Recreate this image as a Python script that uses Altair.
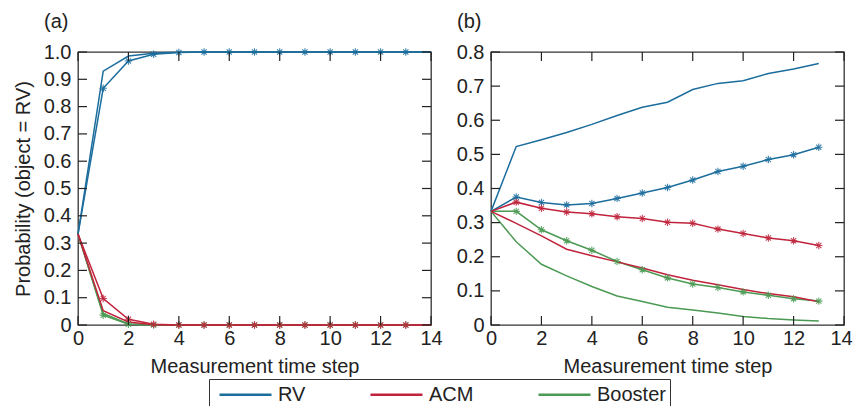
import altair as alt
import pandas as pd

# ---------------- data ----------------
series_names = ["RV", "ACM", "Booster"]
series_colors = ["#1b6d9d", "#c0233b", "#4b9a53"]

t_a = list(range(0, 15))
a_rv_solid = [0.333, 0.930, 0.985, 0.995, 0.999, 1.0, 1.0, 1.0, 1.0, 1.0, 1.0, 1.0, 1.0, 1.0, 1.0]
a_rv_star = [0.333, 0.867, 0.967, 0.992, 0.998, 1.0, 1.0, 1.0, 1.0, 1.0, 1.0, 1.0, 1.0, 1.0, 1.0]
a_acm_solid = [0.333, 0.052, 0.011, 0.001, 0.0, 0.0, 0.0, 0.0, 0.0, 0.0, 0.0, 0.0, 0.0, 0.0, 0.0]
a_acm_star = [0.333, 0.097, 0.021, 0.003, 0.0, 0.0, 0.0, 0.0, 0.0, 0.0, 0.0, 0.0, 0.0, 0.0, 0.0]
a_bst_solid = [0.333, 0.042, 0.004, 0.0, 0.0, 0.0, 0.0, 0.0, 0.0, 0.0, 0.0, 0.0, 0.0, 0.0, 0.0]
a_bst_star = [0.333, 0.036, 0.003, 0.0, 0.0, 0.0, 0.0, 0.0, 0.0, 0.0, 0.0, 0.0, 0.0, 0.0, 0.0]

t_b = list(range(0, 14))
b_rv_solid = [0.333, 0.523, 0.543, 0.564, 0.588, 0.614, 0.638, 0.653, 0.690, 0.708, 0.716, 0.737, 0.750, 0.766]
b_rv_star = [0.333, 0.375, 0.359, 0.352, 0.356, 0.371, 0.387, 0.403, 0.425, 0.450, 0.465, 0.485, 0.499, 0.521]
b_acm_solid = [0.333, 0.298, 0.261, 0.222, 0.203, 0.185, 0.167, 0.147, 0.131, 0.118, 0.104, 0.092, 0.083, 0.068]
b_acm_star = [0.333, 0.360, 0.342, 0.331, 0.326, 0.317, 0.312, 0.301, 0.298, 0.281, 0.268, 0.255, 0.247, 0.233]
b_bst_solid = [0.333, 0.244, 0.178, 0.144, 0.113, 0.085, 0.069, 0.052, 0.044, 0.035, 0.025, 0.019, 0.015, 0.012]
b_bst_star = [0.333, 0.333, 0.279, 0.247, 0.219, 0.186, 0.162, 0.138, 0.120, 0.110, 0.097, 0.087, 0.077, 0.070]

x_ticks = [0, 2, 4, 6, 8, 10, 12, 14]
y_ticks_a = [round(i * 0.1, 1) for i in range(0, 11)]
y_ticks_b = [round(i * 0.1, 1) for i in range(0, 9)]

x_title = "Measurement time step"
y_title = "Probability (object = RV)"

# ---------------- build tables ----------------
def build(t, groups):
    rows = []
    for name, variant, vals in groups:
        for ti, v in zip(t, vals):
            rows.append({"t": ti, "p": v, "series": name, "variant": variant,
                         "key": name + "_" + variant})
    return pd.DataFrame(rows)

df_a = build(t_a, [
    ("Booster", "solid", a_bst_solid), ("Booster", "star", a_bst_star),
    ("RV", "solid", a_rv_solid), ("RV", "star", a_rv_star),
    ("ACM", "solid", a_acm_solid), ("ACM", "star", a_acm_star),
])
df_b = build(t_b, [
    ("Booster", "solid", b_bst_solid), ("Booster", "star", b_bst_star),
    ("RV", "solid", b_rv_solid), ("RV", "star", b_rv_star),
    ("ACM", "solid", b_acm_solid), ("ACM", "star", b_acm_star),
])

W, H = 353, 273
TL = 9  # inward tick length
FONT = "Liberation Sans"
ASTERISK = "M-1,0L1,0M0,-1L0,1M-0.7,-0.7L0.7,0.7M-0.7,0.7L0.7,-0.7"
LEGEND_LINE = "M-0.5,0L4.7,0"
FRAME = "#333"

color_scale = alt.Scale(domain=series_names, range=series_colors)
x_scale = alt.Scale(domain=[0, 14], nice=False, zero=False)


def panel(df, ymax, yticks, label, show_ytitle, last_shift):
    y_scale = alt.Scale(domain=[0, ymax], nice=False)
    x_axis = alt.Axis(values=x_ticks, ticks=False, tickSize=0, domain=False, grid=False,
                      labelPadding=3, titlePadding=8, title=x_title, labelFlush=False,
                      labelOffset={"condition": {"test": "datum.value == 14",
                                                 "value": last_shift},
                                   "value": 0})
    y_axis = alt.Axis(values=yticks, ticks=False, tickSize=0, domain=False, grid=False,
                      labelPadding=7, titlePadding=10, labelFlush=False,
                      labelExpr="datum.value == 0 ? '0' : format(datum.value, '.1f')",
                      title=y_title if show_ytitle else None)

    def X(field):
        return alt.X(field, scale=x_scale, axis=x_axis, title=x_title)

    def Y(field):
        return alt.Y(field, scale=y_scale, axis=y_axis,
                     title=y_title if show_ytitle else None)

    base = alt.Chart(df)
    lines = base.mark_line(strokeWidth=1.5).encode(
        x=X("t:Q"),
        y=Y("p:Q"),
        color=alt.Color("series:N", scale=color_scale, sort=series_names,
                        legend=alt.Legend(title=None, orient="none", direction="horizontal",
                                          legendX=131, legendY=327,
                                          symbolType=LEGEND_LINE, symbolSize=400,
                                          symbolStrokeWidth=2.5, labelFontSize=20,
                                          labelFont=FONT, labelColor="#222",
                                          labelOffset=42, columnPadding=58, padding=4,
                                          strokeColor="#333")),
        detail="key:N",
    )
    points = base.transform_filter(
        "datum.variant == 'star' && datum.t >= 1 && datum.t <= 13"
    ).mark_point(shape=ASTERISK, filled=False, size=55, strokeWidth=1.1, opacity=0.85).encode(
        x=X("t:Q"),
        y=Y("p:Q"),
        color=alt.Color("series:N", scale=color_scale, sort=series_names, legend=None),
    )

    xt = pd.DataFrame({"t": x_ticks})
    yt = pd.DataFrame({"p": yticks})
    tick_color = "#222"
    bottom = alt.Chart(xt).mark_rule(color=tick_color, strokeWidth=1.2).encode(
        x=X("t:Q"), y=alt.value(H), y2=alt.value(H - TL))
    top = alt.Chart(xt).mark_rule(color=tick_color, strokeWidth=1.2).encode(
        x=X("t:Q"), y=alt.value(0), y2=alt.value(TL))
    left = alt.Chart(yt).mark_rule(color=tick_color, strokeWidth=1.2).encode(
        y=Y("p:Q"), x=alt.value(0), x2=alt.value(TL))
    right = alt.Chart(yt).mark_rule(color=tick_color, strokeWidth=1.2).encode(
        y=Y("p:Q"), x=alt.value(W), x2=alt.value(W - TL))

    return alt.layer(lines, points, bottom, top, left, right).properties(
        width=W, height=H,
        title=alt.TitleParams(label, anchor="start", frame="group", dx=-34, offset=10,
                              fontSize=20, fontWeight="normal", font=FONT, color="#222"),
    )


pa = panel(df_a, 1.0, y_ticks_a, "(a)", True, 0)
pb = panel(df_b, 0.8, y_ticks_b, "(b)", False, -3)

chart = alt.hconcat(pa, pb, spacing=12).properties(
    background="white",
    padding={"left": 4, "top": 3, "right": 0, "bottom": -4},
).configure_view(
    stroke=FRAME, strokeWidth=1.3
).configure_axis(
    labelFont=FONT, titleFont=FONT, labelFontSize=20, titleFontSize=20,
    titleFontWeight="normal", labelColor="#222", titleColor="#222"
)

chart.save("out.html", embed_options={"renderer": "svg", "actions": False})
